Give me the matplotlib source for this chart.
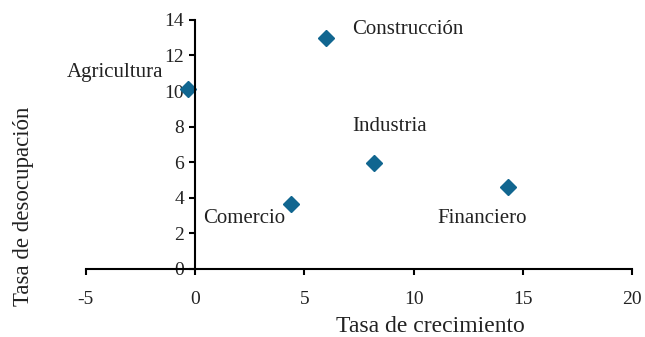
import matplotlib
matplotlib.use('Agg')
import matplotlib.pyplot as plt

plt.rcParams['font.family'] = ['Liberation Serif', 'DejaVu Serif']
plt.rcParams['axes.unicode_minus'] = False

# sectores: tasa de crecimiento vs tasa de desocupacion
sectores = ['Agricultura', 'Construcción', 'Industria', 'Comercio', 'Financiero']
crecimiento = [-0.3, 6.0, 8.2, 4.4, 14.3]
desocupacion = [10.1, 13.0, 5.95, 3.65, 4.6]

# posicion de cada etiqueta (x, y, alineacion)
etiquetas = [(-1.45, 11.05, 'right'), (7.2, 13.45, 'left'), (7.2, 8.0, 'left'),
             (0.35, 2.83, 'left'), (11.1, 2.85, 'left')]

fig = plt.figure(figsize=(6.45, 3.37), dpi=100)
ax = fig.add_axes([0.133, 0.202, 0.847, 0.739])

ax.plot(crecimiento, desocupacion, linestyle='none', marker='D',
        markersize=8.5, color='#116690')

for nombre, (tx, ty, ha) in zip(sectores, etiquetas):
    ax.text(tx, ty, nombre, ha=ha, va='center', fontsize=15, color='#222222')

ax.set_xlim(-5, 20)
ax.set_ylim(0, 14)
ax.set_xticks(range(-5, 21, 5))
ax.set_yticks(range(0, 15, 2))

ax.spines['left'].set_position(('data', 0))
ax.spines['bottom'].set_position(('data', 0))
ax.spines['top'].set_visible(False)
ax.spines['right'].set_visible(False)
for s in ('left', 'bottom'):
    ax.spines[s].set_linewidth(1.5)
ax.tick_params(axis='both', direction='out', length=4, width=1.5,
               labelsize=14, labelcolor='#222222')
ax.tick_params(axis='x', pad=12)
ax.tick_params(axis='y', pad=4)

fig.text(0.667, 0.030, 'Tasa de crecimiento', ha='center', va='center',
         fontsize=17, color='#222222')
fig.text(0.036, 0.389, 'Tasa de desocupación', rotation=90, ha='center',
         va='center', fontsize=16.5, color='#222222')

fig.savefig('out.png', dpi=100)
